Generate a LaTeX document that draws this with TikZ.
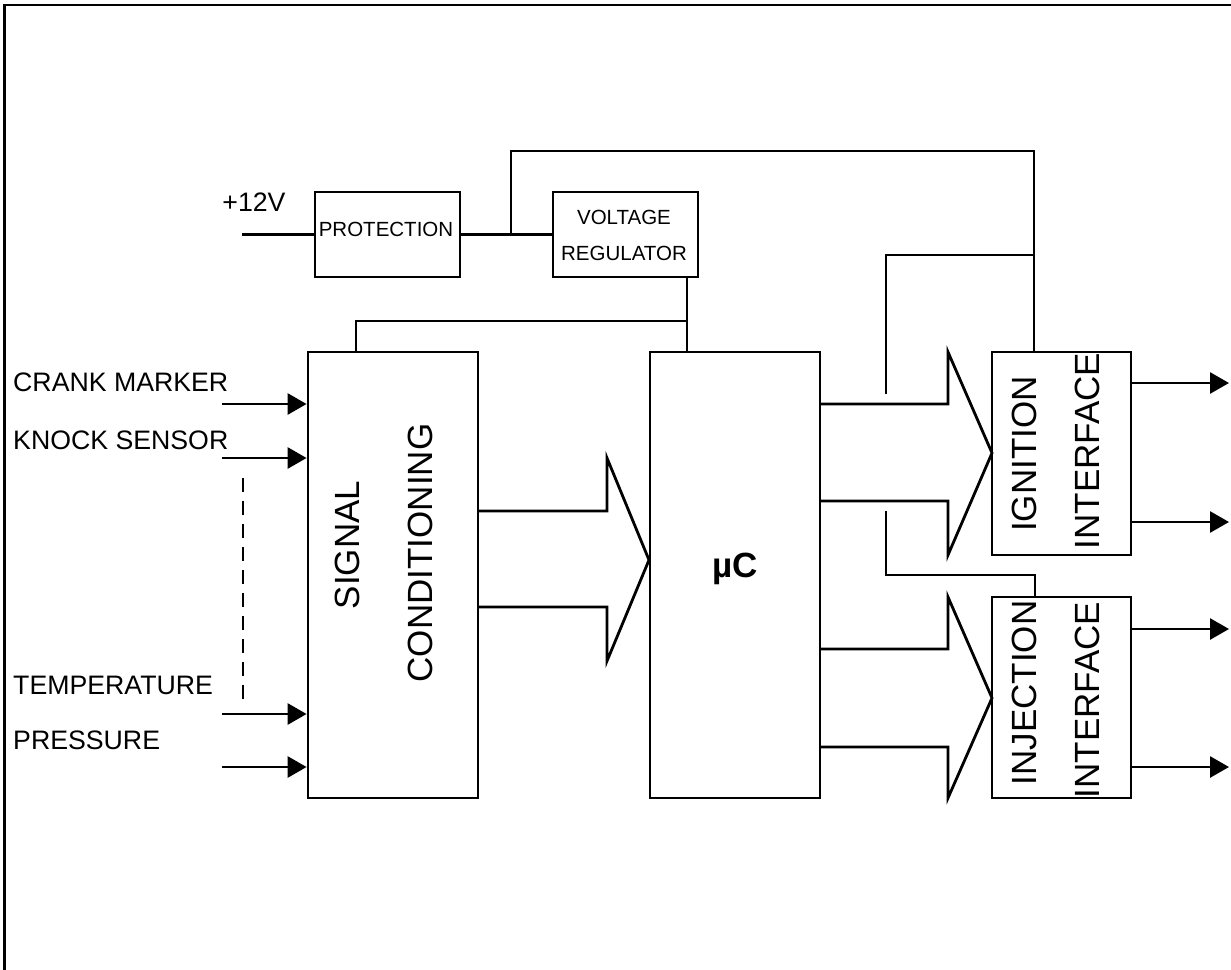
\documentclass[tikz,border=0pt]{standalone}
\usepackage{fontspec}
\setmainfont{Liberation Sans}
\usetikzlibrary{arrows.meta}
\begin{document}
\begin{tikzpicture}[x=1pt,y=-1pt,
  wire/.style={line width=2.8pt},
  arr/.style={line width=2.8pt,-{Triangle[length=19pt,width=21pt]}},
  box/.style={draw,line width=2.8pt,inner sep=0pt},
  lbl/.style={font=\fontsize{26.7}{30}\selectfont,inner sep=0pt},
  small/.style={font=\fontsize{20.5}{24}\selectfont,inner sep=0pt},
  big/.style={font=\fontsize{35}{40}\selectfont,inner sep=0pt,rotate=90}]
\useasboundingbox (0,0) rectangle (1231,969);
% frame
\draw[line width=2.8pt] (4.5,975) -- (4.5,5) -- (1235,5);
% boxes
\node[box,minimum width=145pt,minimum height=85pt] (prot) at (387.5,234.5) {};
\node[box,minimum width=145pt,minimum height=85pt] (vr) at (625.5,234.5) {};
\node[box,minimum width=170pt,minimum height=446pt] (sc) at (393,575) {};
\node[box,minimum width=170pt,minimum height=446pt] (mc) at (735,575) {};
\node[box,minimum width=139pt,minimum height=203pt] (ign) at (1061.5,453.5) {};
\node[box,minimum width=139pt,minimum height=201pt] (inj) at (1061.5,697.5) {};
% texts
\node[small] (tprot) at (386,229) {PROTECTION};
\node[small] (tvolt) at (624,217) {VOLTAGE};
\node[small] (treg) at (624,253) {REGULATOR};
\node[lbl] (t12) at (254,202.5) {+12V};
\node[big] (tsig) at (347,545) {SIGNAL};
\node[big] (tcond) at (420,553) {CONDITIONING};
\node[font=\fontsize{35}{40}\selectfont\bfseries,inner sep=0pt,anchor=base] (tmc) at (735,577) {µC};
\node[big] (tign) at (1024,454) {IGNITION};
\node[big] (tif1) at (1087,451) {INTERFACE};
\node[big] (tinj) at (1024,693) {INJECTION};
\node[big] (tif2) at (1087,700) {INTERFACE};
\node[lbl,anchor=base west] (tcr) at (13,391) {CRANK MARKER};
\node[lbl,anchor=base west] (tkn) at (13,449) {KNOCK SENSOR};
\node[lbl,anchor=base west] (ttp) at (13,694) {TEMPERATURE};
\node[lbl,anchor=base west] (tpr) at (13,749) {PRESSURE};
% power wiring
\coordinate (in12) at (242,234.5);
\draw[wire] (in12) -- (prot.west);
\draw[wire] (prot.east) -- (vr.west);
\coordinate (j1) at (511,234.5);
\coordinate (topL) at (511,151);
\coordinate (topR) at (1034,151);
\draw[wire] (j1) -- (topL) -- (topR) -- (topR |- ign.north);
\coordinate (j2) at (1034,255);
\coordinate (b1) at (886,255);
\coordinate (b1e) at (886,394);
\draw[wire] (j2) -- (b1) -- (b1e);
\coordinate (b2s) at (886,511);
\coordinate (b2c) at (886,575);
\coordinate (b2r) at (1035,575);
\draw[wire] (b2s) -- (b2c) -- (b2r) -- (b2r |- inj.north);
\coordinate (j3) at (687,321);
\coordinate (j3l) at (356,321);
\draw[wire] (j3 |- vr.south) -- (j3 |- mc.north);
\draw[wire] (j3) -- (j3l) -- (j3l |- sc.north);
% inputs
\foreach \y in {404,458,714,767}{
  \coordinate (i\y) at (222,\y);
  \draw[arr] (i\y) -- (i\y -| sc.west);
}
\draw[line width=2.8pt,dash pattern=on 14pt off 9pt] (243,478) -- (243,705);
% outputs
\foreach \y in {383,522}{
  \coordinate (o\y) at (1229,\y);
  \draw[arr] (o\y -| ign.east) -- (o\y);
}
\foreach \y in {629,767}{
  \coordinate (o\y) at (1229,\y);
  \draw[arr] (o\y -| inj.east) -- (o\y);
}
% bus chevrons
\draw[wire] (478,511) -- (607,511) -- (607,458) -- (649,560) -- (607,661) -- (607,607) -- (478,607);
\draw[wire] (820,404) -- (948,404) -- (948,352) -- (992,453) -- (948,555) -- (948,501) -- (820,501);
\draw[wire] (820,649) -- (948,649) -- (948,597) -- (992,698) -- (948,798) -- (948,747) -- (820,747);
\end{tikzpicture}
\end{document}
